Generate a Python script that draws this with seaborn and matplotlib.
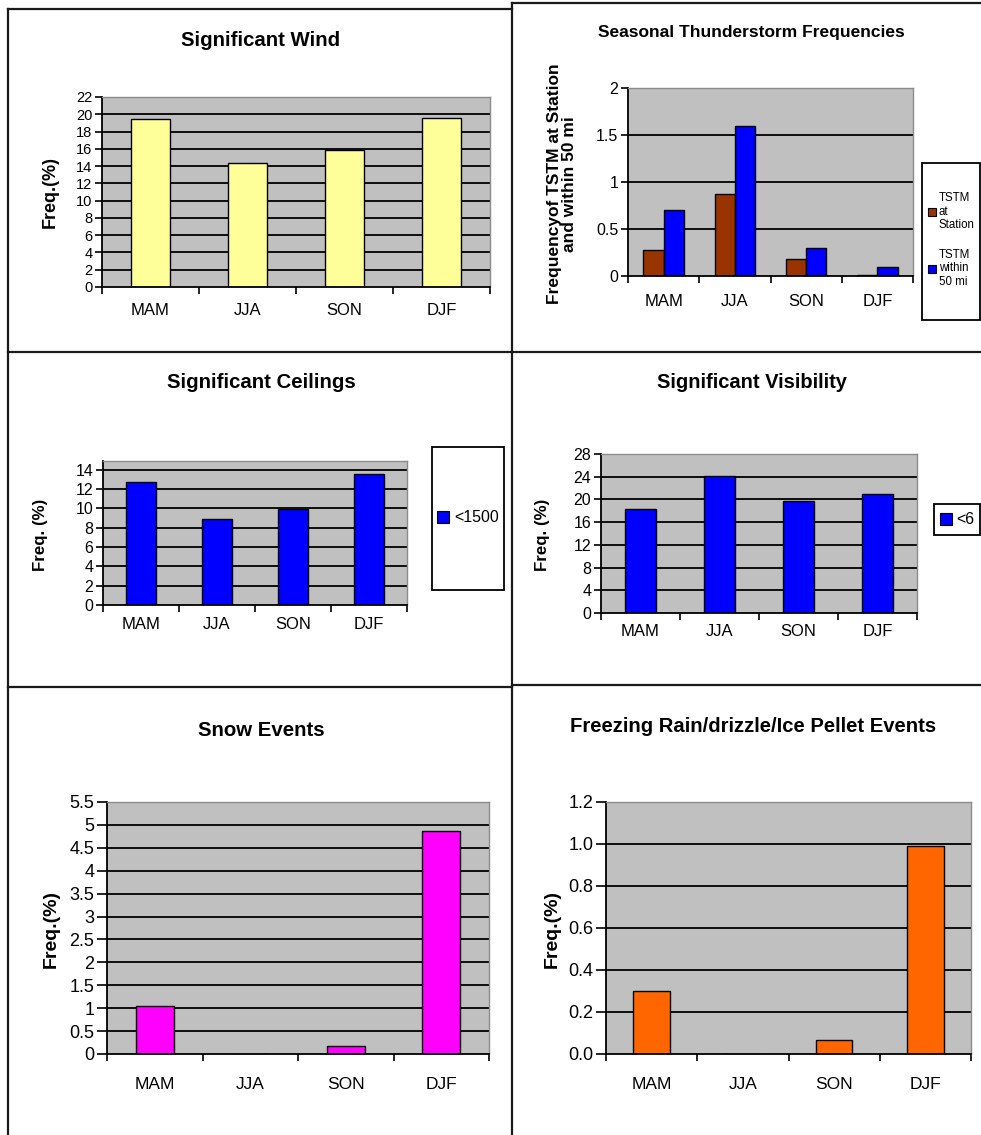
import numpy as np
import pandas as pd
import matplotlib
matplotlib.use("Agg")
import matplotlib.pyplot as plt
from matplotlib.patches import Rectangle, Patch
from matplotlib.lines import Line2D
import seaborn as sns

# Seasonal data
seasons = ["MAM", "JJA", "SON", "DJF"]
wind = [19.4, 14.3, 15.9, 19.6]
tstm_station = [0.28, 0.87, 0.18, 0.01]
tstm_50mi = [0.70, 1.60, 0.30, 0.10]
ceilings = [12.7, 8.9, 9.9, 13.6]
visibility = [18.4, 24.2, 19.8, 21.0]
snow = [1.05, 0.0, 0.18, 4.87]
freezing = [0.30, 0.0, 0.065, 0.99]

wind_ticks = list(range(0, 23, 2))
tstm_ticks = [0, 0.5, 1, 1.5, 2]
tstm_ticklabels = ["0", "0.5", "1", "1.5", "2"]
ceil_ticks = list(range(0, 15, 2))
vis_ticks = list(range(0, 29, 4))
snow_ticks = [0, 0.5, 1, 1.5, 2, 2.5, 3, 3.5, 4, 4.5, 5, 5.5]
snow_ticklabels = ["0", "0.5", "1", "1.5", "2", "2.5", "3", "3.5", "4", "4.5", "5", "5.5"]
frz_ticks = [0.0, 0.2, 0.4, 0.6, 0.8, 1.0, 1.2]
frz_ticklabels = ["0.0", "0.2", "0.4", "0.6", "0.8", "1.0", "1.2"]

W, H = 981, 1135
REG = ["Liberation Sans", "DejaVu Sans"]
plt.rcParams["font.family"] = REG

fig = plt.figure(figsize=(W / 100, H / 100), dpi=100)
fig.patch.set_facecolor("white")


def fx(x):
    return x / W


def fy(y):
    return 1 - y / H


def add_ax(x0, y0, x1, y1):
    return fig.add_axes([fx(x0), fy(y1), (x1 - x0) / W, (y1 - y0) / H])


def style(ax, ymax, yticks, ylabels, fs_y, fs_x, pad_x, ytick_len=5):
    ax.set_facecolor("#C0C0C0")
    ax.set_ylim(0, ymax)
    ax.set_xlim(-0.5, 3.5)
    ax.set_yticks(yticks)
    ax.set_yticklabels(ylabels, fontsize=fs_y)
    ax.set_xticks(range(4))
    ax.set_xticklabels(seasons, fontsize=fs_x)
    ax.set_xticks(np.arange(-0.5, 4, 1), minor=True)
    ax.tick_params(axis="x", which="major", length=0, pad=pad_x, bottom=True)
    ax.tick_params(axis="x", which="minor", length=5, width=1.2, color="black",
                   direction="out", bottom=True)
    ax.tick_params(axis="y", which="major", length=ytick_len, width=1.2, color="black",
                   direction="out", left=True, pad=2)
    ax.set_xlabel("")
    ax.set_ylabel("")
    for t in yticks[1:]:
        if t < ymax - 1e-9:
            ax.axhline(t, color="black", lw=1.3, zorder=0.5)
    for s in ("left", "bottom"):
        ax.spines[s].set_color("black")
        ax.spines[s].set_linewidth(1.3)
    for s in ("top", "right"):
        ax.spines[s].set_color("#8c8c8c")
        ax.spines[s].set_linewidth(1.0)


def single_bars(ax, vals, color):
    sns.barplot(x=seasons, y=vals, color=color, saturation=1, width=0.4,
                edgecolor="black", linewidth=1, ax=ax, zorder=2)


def legend_box(x0, y0, x1, y1):
    fig.add_artist(Rectangle((fx(x0), fy(y1)), (x1 - x0) / W, (y1 - y0) / H,
                             transform=fig.transFigure, fill=False,
                             edgecolor="black", lw=1.3))


# Panel frames
frame_kw = dict(color="#1a1a1a", lw=1.6, transform=fig.transFigure)
frame_lines = [
    ((8, 8), (9, 1135)),
    ((512, 512), (3, 1135)),
    ((8, 512), (9, 9)),
    ((512, 981), (3, 3)),
    ((8, 981), (352, 352)),
    ((8, 512), (687, 687)),
    ((512, 981), (685, 685)),
]
for xs, ys in frame_lines:
    fig.add_artist(Line2D([fx(xs[0]), fx(xs[1])], [fy(ys[0]), fy(ys[1])], **frame_kw))

# Significant Wind
ax1 = add_ax(102, 97, 490, 287)
single_bars(ax1, wind, "#FFFF99")
style(ax1, 22, wind_ticks, [str(t) for t in wind_ticks], 10.5, 12, 11.5)
fig.text(fx(261), fy(41), "Significant Wind", ha="center", va="center",
         fontsize=14.7, fontweight="bold")
fig.text(fx(50), fy(192), "Freq.(%)", ha="center", va="center", rotation=90,
         fontsize=13, fontweight="bold")

# Seasonal Thunderstorm Frequencies
ax2 = add_ax(628, 88, 913, 276)
tstm_df = pd.DataFrame({
    "season": seasons * 2,
    "freq": tstm_station + tstm_50mi,
    "series": ["TSTM at Station"] * 4 + ["TSTM within 50 mi"] * 4,
})
sns.barplot(data=tstm_df, x="season", y="freq", hue="series",
            palette=["#993300", "#0000FF"], saturation=1, width=0.57,
            edgecolor="black", linewidth=1, ax=ax2, legend=False, zorder=2)
style(ax2, 2, tstm_ticks, tstm_ticklabels, 11.5, 12, 13)
fig.text(fx(751), fy(32), "Seasonal Thunderstorm Frequencies", ha="center",
         va="center", fontsize=12.5, fontweight="bold")
fig.text(fx(562), fy(184), "Frequencyof TSTM at Station\nand within 50 mi",
         ha="center", va="center", rotation=90, fontsize=12.5,
         fontweight="bold", linespacing=1.05)
legend_box(922, 163, 980, 320)
h2 = [Patch(facecolor="#993300", edgecolor="black", lw=0.8),
      Patch(facecolor="#0000FF", edgecolor="black", lw=0.8)]
fig.legend(h2, ["TSTM\nat\nStation", "TSTM\nwithin\n50 mi"], loc="center",
           bbox_to_anchor=(fx(951), fy(240)), frameon=False, fontsize=8.3,
           handlelength=0.7, handleheight=0.7, handletextpad=0.25,
           labelspacing=1.5, borderpad=0)

# Significant Ceilings
ax3 = add_ax(103, 461, 407, 605)
single_bars(ax3, ceilings, "#0000FF")
style(ax3, 14.9, ceil_ticks, [str(t) for t in ceil_ticks], 11.5, 12, 8.5)
fig.text(fx(261), fy(383), "Significant Ceilings", ha="center", va="center",
         fontsize=14.7, fontweight="bold")
fig.text(fx(40), fy(535), "Freq. (%)", ha="center", va="center", rotation=90,
         fontsize=12.2, fontweight="bold")
legend_box(432, 447, 504, 590)
fig.legend([Patch(facecolor="#0000FF", edgecolor="black", lw=0.8)], ["<1500"],
           loc="center", bbox_to_anchor=(fx(468), fy(518)), frameon=False,
           fontsize=11.5, handlelength=0.75, handleheight=0.75,
           handletextpad=0.3, borderpad=0)

# Significant Visibility
ax4 = add_ax(601, 454, 917, 613)
single_bars(ax4, visibility, "#0000FF")
style(ax4, 28, vis_ticks, [str(t) for t in vis_ticks], 11.5, 12, 8)
fig.text(fx(752), fy(383), "Significant Visibility", ha="center", va="center",
         fontsize=14.5, fontweight="bold")
fig.text(fx(542), fy(535), "Freq. (%)", ha="center", va="center", rotation=90,
         fontsize=12.2, fontweight="bold")
legend_box(934, 504, 980, 535)
fig.legend([Patch(facecolor="#0000FF", edgecolor="black", lw=0.8)], ["<6"],
           loc="center", bbox_to_anchor=(fx(957), fy(520)), frameon=False,
           fontsize=11.5, handlelength=0.75, handleheight=0.75,
           handletextpad=0.3, borderpad=0)

# Snow Events
ax5 = add_ax(107, 802, 489, 1054)
single_bars(ax5, snow, "#FF00FF")
style(ax5, 5.5, snow_ticks, snow_ticklabels, 13, 12.5, 16.5, ytick_len=7)
fig.text(fx(261), fy(730), "Snow Events", ha="center", va="center",
         fontsize=14.7, fontweight="bold")
fig.text(fx(51), fy(929), "Freq.(%)", ha="center", va="center", rotation=90,
         fontsize=14, fontweight="bold")

# Freezing Rain/drizzle/Ice Pellet Events
ax6 = add_ax(606, 802, 971, 1054)
single_bars(ax6, freezing, "#FF6600")
style(ax6, 1.2, frz_ticks, frz_ticklabels, 13, 12.5, 16.5, ytick_len=7)
fig.text(fx(753), fy(727), "Freezing Rain/drizzle/Ice Pellet Events", ha="center",
         va="center", fontsize=14.6, fontweight="bold")
fig.text(fx(552), fy(929), "Freq.(%)", ha="center", va="center", rotation=90,
         fontsize=14, fontweight="bold")

fig.savefig("out.png", dpi=100, facecolor="white")
